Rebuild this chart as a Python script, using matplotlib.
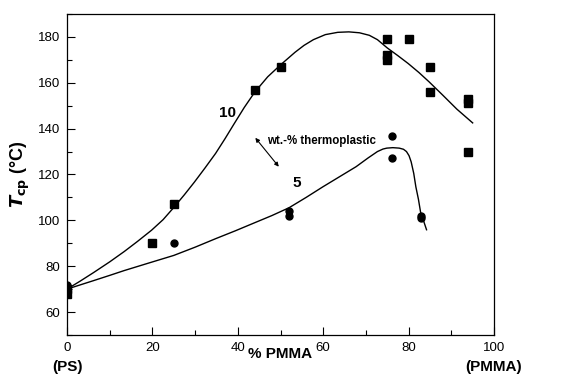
import matplotlib
matplotlib.use("Agg")
import matplotlib.pyplot as plt
from matplotlib.ticker import MultipleLocator

plt.rcParams['font.family'] = ['Liberation Sans', 'DejaVu Sans']

# data points (squares: 10 wt.-%, circles: 5 wt.-%)
sq_x = [0, 0, 20, 25, 44, 50, 75, 75, 75, 80, 85, 85, 94, 94, 94]
sq_y = [68, 70, 90, 107, 157, 167, 179, 172, 170, 179, 167, 156, 153, 151, 130]
ci_x = [0, 0, 25, 52, 52, 76, 76, 83, 83]
ci_y = [72, 71, 90, 104, 102, 137, 127, 102, 101]

# fitted curves
c10_x = [0, 3, 6.2, 10, 13.4, 16.5, 19.8, 22.5, 25, 27.5, 29.8, 32.3, 34.8, 37, 39.1, 41.5,
         44, 47, 50, 53.4, 55.5, 57.7, 60.5, 63.4, 66, 68.5, 70.8, 72.7, 75, 77.5, 79.9,
         82.4, 84.8, 88, 91.3, 95]
c10_y = [70, 73.4, 77.2, 81.9, 86.4, 90.8, 95.7, 100.3, 105.6, 111.2, 116.6, 122.8, 129.2,
         135.6, 142, 149.2, 156, 162.6, 167.8, 173.3, 176.3, 178.8, 181, 182, 182.2,
         181.8, 180.7, 178.8, 175.2, 171.8, 168.4, 164.5, 160.4, 154.6, 148.5, 142.5]
c5_x = [0, 3, 6.2, 10, 13.4, 19, 25, 30, 34.8, 39.5, 44, 48, 52, 56, 59.9, 63.8, 67.7,
        70.5, 72.7, 74, 74.9, 76.3, 77.8, 78.8, 79.5, 80.1, 80.6, 81.2, 81.7, 82.3, 82.8,
        83.5, 84.2]
c5_y = [70, 71.8, 73.7, 76, 78.1, 81.3, 84.7, 88.3, 92, 95.5, 99, 102.1, 105.5, 110,
        114.6, 119, 123.4, 127.2, 130, 131.1, 131.5, 131.7, 131.5, 131, 130, 128.2,
        125.5, 120.5, 114.6, 109.2, 103.6, 99.8, 95.9]

xticks = [0, 20, 40, 60, 80, 100]
yticks = [60, 80, 100, 120, 140, 160, 180]

fig = plt.figure(figsize=(5.66, 3.74), dpi=100)
ax = fig.add_axes([0.1184, 0.1043, 0.7544, 0.8583])

ax.plot(c10_x, c10_y, color='black', lw=1.0, solid_joinstyle='round')
ax.plot(c5_x, c5_y, color='black', lw=1.0, solid_joinstyle='round')
ax.plot(sq_x, sq_y, linestyle='none', marker='s', ms=5.7, color='black')
ax.plot(ci_x, ci_y, linestyle='none', marker='o', ms=5, color='black')

ax.set_xlim(0, 100)
ax.set_ylim(50, 190)
ax.set_xticks(xticks)
ax.set_yticks(yticks)
ax.xaxis.set_minor_locator(MultipleLocator(10))
ax.yaxis.set_minor_locator(MultipleLocator(10))
ax.tick_params(which='major', direction='in', length=6, width=0.8, labelsize=9.5, pad=5,
               top=False, right=False)
ax.tick_params(which='minor', direction='in', length=3.5, width=0.8, top=False, right=False)
for s in ax.spines.values():
    s.set_linewidth(0.9)

ax.set_xlabel('% PMMA', fontsize=11, fontweight='bold')
ax.xaxis.set_label_coords(0.5, -0.059)
ax.xaxis.label.set_va('center')
ax.set_ylabel(r'$\mathbfit{T}_{\mathbf{cp}}$ (°C)', fontsize=13, fontweight='bold', labelpad=4)

ax.text(0, -0.1, '(PS)', transform=ax.transAxes, ha='center', va='center',
        fontsize=11, fontweight='bold')
ax.text(1.0, -0.1, '(PMMA)', transform=ax.transAxes, ha='center', va='center',
        fontsize=11, fontweight='bold')

ax.text(37.7, 146.7, '10', fontsize=11, fontweight='bold', ha='center', va='center')
ax.text(53.8, 116.2, '5', fontsize=11, fontweight='bold', ha='center', va='center')
ax.text(46.8, 134.8, 'wt.-% thermoplastic', fontsize=8.3, fontweight='bold', ha='left', va='center')
ax.annotate('', xy=(44.1, 136), xytext=(49.6, 123.4),
            arrowprops=dict(arrowstyle='<|-|>', color='black', lw=0.8,
                            mutation_scale=6, shrinkA=0, shrinkB=0))

fig.savefig('out.png', dpi=100)
